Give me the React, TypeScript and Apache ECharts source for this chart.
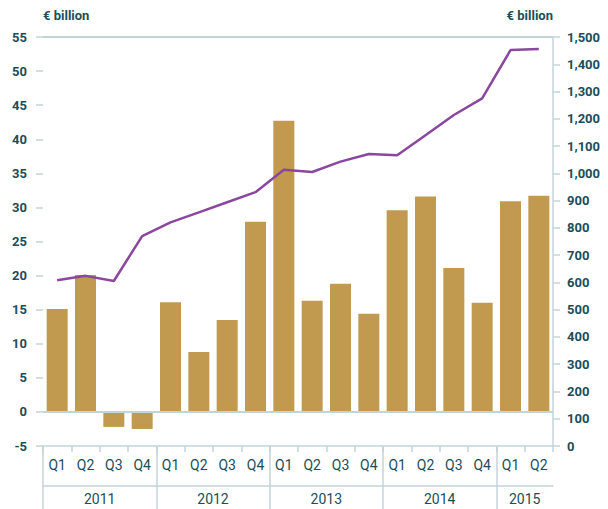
import React, { useEffect, useRef } from "react";
import * as echarts from "echarts";

const quarters = ["Q1","Q2","Q3","Q4","Q1","Q2","Q3","Q4","Q1","Q2","Q3","Q4","Q1","Q2","Q3","Q4","Q1","Q2"];
const years = ["2011", "2012", "2013", "2014", "2015"];
const quartersPerYear = [4, 4, 4, 4, 2];
const flowValues = [15.1, 20.1, -2.2, -2.5, 16.1, 8.8, 13.5, 27.9, 42.7, 16.3, 18.8, 14.4, 29.6, 31.6, 21.1, 16.0, 30.9, 31.7];
const stockValues = [608, 624, 605, 770, 820, 857, 894, 931, 1013, 1005, 1043, 1071, 1066, 1140, 1214, 1275, 1452, 1456];
const leftTicks = { min: -5, max: 55, interval: 5 };
const rightTicks = { min: 0, max: 1500, interval: 100 };

const TEXT = "#1C4D5A";
const AXIS = "#C3D3DA";
const FONT = "'Liberation Sans Narrow', 'Roboto', 'Liberation Sans', sans-serif";

export default function App() {
  const ref = useRef<HTMLDivElement>(null);
  useEffect(() => {
    if (!ref.current) return;
    const chart = echarts.init(ref.current, null, { renderer: "svg" });

    const total = quartersPerYear.reduce((a, b) => a + b, 0) * 2 + 1;
    const yearAxisData: string[] = new Array(total).fill("");
    const boundaries = new Set<number>();
    let pos = 0;
    years.forEach((y, i) => {
      boundaries.add(pos);
      yearAxisData[pos + quartersPerYear[i]] = y;
      pos += quartersPerYear[i] * 2;
    });

    chart.setOption({
      animation: false,
      grid: { left: 43, right: 55, top: 37, bottom: 63, containLabel: false },
      xAxis: [
        {
          type: "category",
          data: quarters,
          position: "bottom",
          axisLine: { show: true, onZero: false, lineStyle: { color: AXIS, width: 1.5 } },
          axisTick: { show: true, length: 6, lineStyle: { color: AXIS, width: 1.5 } },
          axisLabel: { color: TEXT, fontSize: 14, fontFamily: FONT, margin: 12, interval: 0 },
          splitLine: { show: false },
        },
        {
          type: "category",
          data: yearAxisData,
          boundaryGap: false,
          position: "bottom",
          axisLine: { show: false, onZero: false },
          axisTick: {
            show: true,
            length: 63,
            interval: (idx: number) => boundaries.has(idx),
            lineStyle: { color: AXIS, width: 1.5 },
          },
          axisLabel: {
            color: TEXT,
            fontSize: 14,
            fontFamily: FONT,
            margin: 46,
            interval: (_idx: number, val: string) => val !== "",
          },
          splitLine: { show: false },
        },
        {
          type: "category",
          data: quarters,
          position: "bottom",
          offset: 40,
          axisLine: { show: true, onZero: false, lineStyle: { color: AXIS, width: 1.5 } },
          axisTick: { show: false },
          axisLabel: { show: false },
        },
      ],
      yAxis: [
        {
          type: "value",
          min: leftTicks.min,
          max: leftTicks.max,
          interval: leftTicks.interval,
          position: "left",
          name: "€ billion",
          nameLocation: "end",
          nameGap: 22,
          nameTextStyle: { color: TEXT, fontSize: 13, fontFamily: FONT, fontWeight: "bold", align: "left", verticalAlign: "middle" },
          axisLine: { show: false },
          axisTick: { show: true, length: 7, lineStyle: { color: AXIS, width: 1.5 } },
          axisLabel: { color: TEXT, fontSize: 13, fontFamily: FONT, fontWeight: "bold", margin: 16 },
          splitLine: { show: false },
        },
        {
          type: "value",
          min: rightTicks.min,
          max: rightTicks.max,
          interval: rightTicks.interval,
          position: "right",
          name: "€ billion",
          nameLocation: "end",
          nameGap: 22,
          nameTextStyle: { color: TEXT, fontSize: 13, fontFamily: FONT, fontWeight: "bold", align: "right", verticalAlign: "middle" },
          axisLine: { show: true, lineStyle: { color: AXIS, width: 1.5 } },
          axisTick: { show: true, length: 7, lineStyle: { color: AXIS, width: 1.5 } },
          axisLabel: {
            color: TEXT,
            fontSize: 13,
            fontFamily: FONT,
            fontWeight: "bold",
            margin: 14,
            formatter: (v: number) => v.toLocaleString("en-US"),
          },
          splitLine: { show: false },
        },
      ],
      series: [
        {
          type: "bar",
          xAxisIndex: 0,
          yAxisIndex: 0,
          data: flowValues,
          barWidth: 21,
          itemStyle: { color: "#C19A50" },
          markLine: {
            silent: true,
            symbol: "none",
            label: { show: false },
            lineStyle: { color: AXIS, width: 2, type: "solid" },
            data: [{ yAxis: 0 }, { yAxis: 55 }],
          },
          z: 2,
        },
        {
          type: "line",
          xAxisIndex: 0,
          yAxisIndex: 1,
          data: stockValues,
          symbol: "none",
          lineStyle: { color: "#8B479E", width: 2.5 },
          z: 3,
        },
      ],
    });
    return () => chart.dispose();
  }, []);
  return <div ref={ref} style={{ width: 608, height: 509, position: "absolute", left: 0, top: 0 }} />;
}
